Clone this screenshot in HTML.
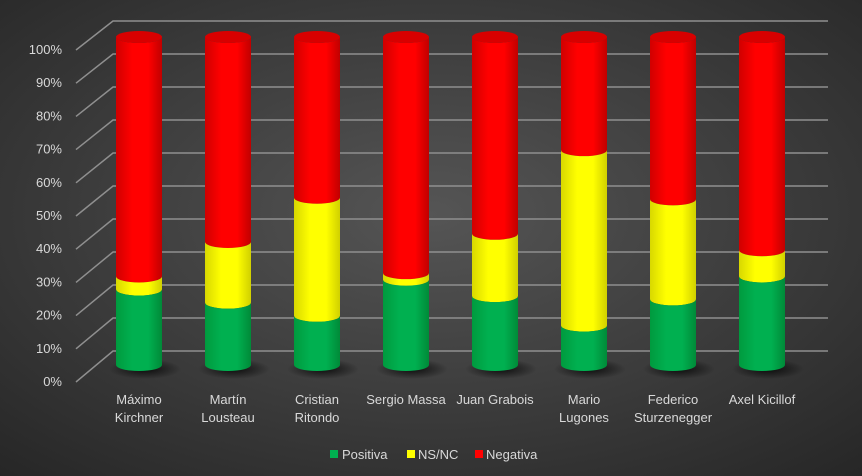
<!DOCTYPE html>
<html><head><meta charset="utf-8"><style>
html,body{margin:0;padding:0;background:#333}
svg{display:block}
text{font-family:"Liberation Sans",sans-serif;fill:#d9d9d9;font-size:13px}
</style></head><body>
<svg width="862" height="476" viewBox="0 0 862 476" xmlns="http://www.w3.org/2000/svg">
<defs>
<radialGradient id="bg" cx="0.5" cy="0.45" r="0.75">
<stop offset="0" stop-color="#555"/><stop offset="1" stop-color="#262626"/></radialGradient>
<linearGradient id="gR" x1="0" x2="1"><stop offset="0" stop-color="#d00000"/><stop offset="0.35" stop-color="#ff0000"/><stop offset="0.7" stop-color="#ff0000"/><stop offset="1" stop-color="#c00000"/></linearGradient>
<linearGradient id="gY" x1="0" x2="1"><stop offset="0" stop-color="#d8d800"/><stop offset="0.35" stop-color="#ffff00"/><stop offset="0.7" stop-color="#ffff00"/><stop offset="1" stop-color="#d0d000"/></linearGradient>
<linearGradient id="gG" x1="0" x2="1"><stop offset="0" stop-color="#009a3e"/><stop offset="0.35" stop-color="#00b050"/><stop offset="0.7" stop-color="#00b050"/><stop offset="1" stop-color="#008a38"/></linearGradient>
<radialGradient id="sh"><stop offset="0" stop-color="#000" stop-opacity="0.8"/><stop offset="1" stop-color="#000" stop-opacity="0"/></radialGradient>
</defs>
<rect width="862" height="476" fill="url(#bg)"/>
<g id="grid" stroke="#8f8f8f" stroke-width="1.5" fill="none"></g>
<g id="labels"></g>
<g id="bars"></g>
<g id="cats"></g>
<rect x="330" y="450" width="8" height="8" fill="#00b050"/><text x="342" y="459">Positiva</text>
<rect x="407" y="450" width="8" height="8" fill="#ffff00"/><text x="418" y="459">NS/NC</text>
<rect x="475" y="450" width="8" height="8" fill="#ff0000"/><text x="486" y="459">Negativa</text>
</svg>
<script>
const NS="http://www.w3.org/2000/svg";
function el(p,t,a,txt){const e=document.createElementNS(NS,t);for(const k in a)e.setAttribute(k,a[k]);if(txt!==undefined)e.textContent=txt;document.getElementById(p).appendChild(e);return e;}
for(let i=0;i<=10;i++){
 const yb=351-33*i, yf=382-33.2*i;
 el('grid','path',{d:`M76 ${yf} L113 ${yb} L828 ${yb}`});
 el('labels','text',{x:62,y:yf+4,'text-anchor':'end'},(i*10)+'%');
}
const data=[[23,4,"Máximo","Kirchner"],[19,18.5,"Martín","Lousteau"],[15,36,"Cristian","Ritondo"],[26,2,"Sergio Massa",""],[21,19,"Juan Grabois",""],[12,53.5,"Mario","Lugones"],[20,30.5,"Federico","Sturzenegger"],[27,8,"Axel Kicillof",""]];
const rx=23,ry=6,y0=365,H=328;
function seg(cx,a,b,fill){const x0=cx-rx,x1=cx+rx,yl=y0-H*a/100,yh=y0-H*b/100;
 el('bars','path',{d:`M${x0} ${yh} L${x0} ${yl} A${rx} ${ry} 0 0 0 ${x1} ${yl} L${x1} ${yh} A${rx} ${ry} 0 0 1 ${x0} ${yh} Z`,fill:fill});}
data.forEach((d,i)=>{
 const cx=139+89*i;
 el('bars','ellipse',{cx:cx+6,cy:y0+4,rx:36,ry:10,fill:'url(#sh)'});
 seg(cx,d[0]+d[1],100,'url(#gR)');
 seg(cx,d[0],d[0]+d[1],'url(#gY)');
 seg(cx,0,d[0],'url(#gG)');
 el('bars','ellipse',{cx:cx,cy:y0-H,rx:rx,ry:ry,fill:'#d80000'});
 el('cats','text',{x:cx,y:404,'text-anchor':'middle'},d[2]);
 if(d[3])el('cats','text',{x:cx,y:422,'text-anchor':'middle'},d[3]);
});
</script>
</body></html>
